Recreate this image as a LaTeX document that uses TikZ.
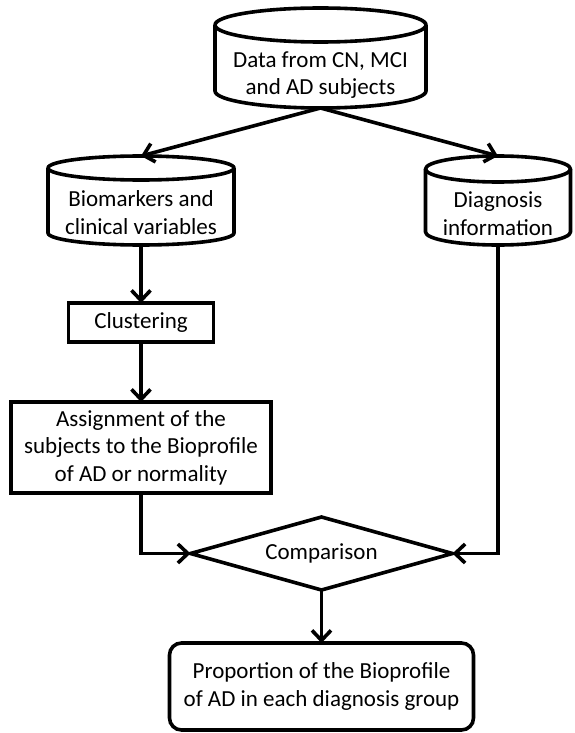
\documentclass[tikz,border=0pt]{standalone}
\usepackage{fontspec}
\setmainfont{Carlito}
\usetikzlibrary{arrows.meta,calc,shapes.geometric}

% Database symbol drawn around a text node: #1 node, #2 half width (pt), #3 ellipse half height (pt)
\newcommand{\dbshape}[3]{%
  \draw[outline] ($(#1.north west)+(0,-#3)$) -- ($(#1.south west)+(0,-#3)$)
    arc[start angle=180, end angle=360, x radius=#2pt, y radius=#3pt]
    -- ($(#1.north east)+(0,-#3)$);
  \draw[outline] ($(#1.north)+(0,-#3)$) ellipse[x radius=#2pt, y radius=#3pt];
  \coordinate (#1-top) at ($(#1.north)+(0,-2*#3)$);
}

\tikzset{
  outline/.style={line width=3.6pt, line join=round},
  txt/.style={font=\fontsize{23}{27.5}\selectfont, align=center, inner sep=0pt, outer sep=0pt},
  cylnode/.style={txt},
  boxnode/.style={txt, draw, line width=3.6pt},
  roundnode/.style={boxnode, rounded corners=12pt},
  decision/.style={txt, draw, line width=3.6pt, shape=diamond, aspect=3.6, line join=miter},
  flow/.style={line width=3.6pt, -{Straight Barb[length=10pt,width=19pt,line join=miter]}},
}

\begin{document}
\begin{tikzpicture}[x=1pt, y=-1pt]
  \useasboundingbox (0,0) rectangle (574,733);

  % data stores
  \node[cylnode, minimum width=211pt, minimum height=66pt] (data) at (320.5,75)
    {Data from CN, MCI\\and AD subjects};
  \dbshape{data}{105.5}{17}

  \node[cylnode, minimum width=186pt, minimum height=65pt] (bio) at (141,212.5)
    {Biomarkers and\\clinical variables};
  \dbshape{bio}{93}{12}

  \node[cylnode, minimum width=145pt, minimum height=63pt] (diag) at (498,213.5)
    {Diagnosis\\information};
  \dbshape{diag}{72.5}{13}

  % processing steps
  \node[boxnode, minimum width=145pt, minimum height=39pt] (clus) at (141,322.5)
    {Clustering};
  \node[boxnode, minimum width=260pt, minimum height=91pt] (assign) at (141,447.5)
    {Assignment of the\\subjects to the Bioprofile\\of AD or normality};
  \node[decision, minimum width=262pt, minimum height=73pt] (cmp) at (321.5,553.5)
    {Comparison};
  \node[roundnode, minimum width=304pt, minimum height=87pt] (prop) at (321.5,686.5)
    {Proportion of the Bioprofile\\of AD in each diagnosis group};

  % connectors
  \draw[flow] (data.south) -- (bio-top);
  \draw[flow] (data.south) -- (diag-top);
  \draw[flow] (bio.south) -- (clus.north);
  \draw[flow] (clus.south) -- (assign.north);
  \draw[flow] (assign.south) |- (cmp.west);
  \draw[flow] (diag.south) |- (cmp.east);
  \draw[flow] (cmp.south) -- (prop.north);
\end{tikzpicture}
\end{document}
